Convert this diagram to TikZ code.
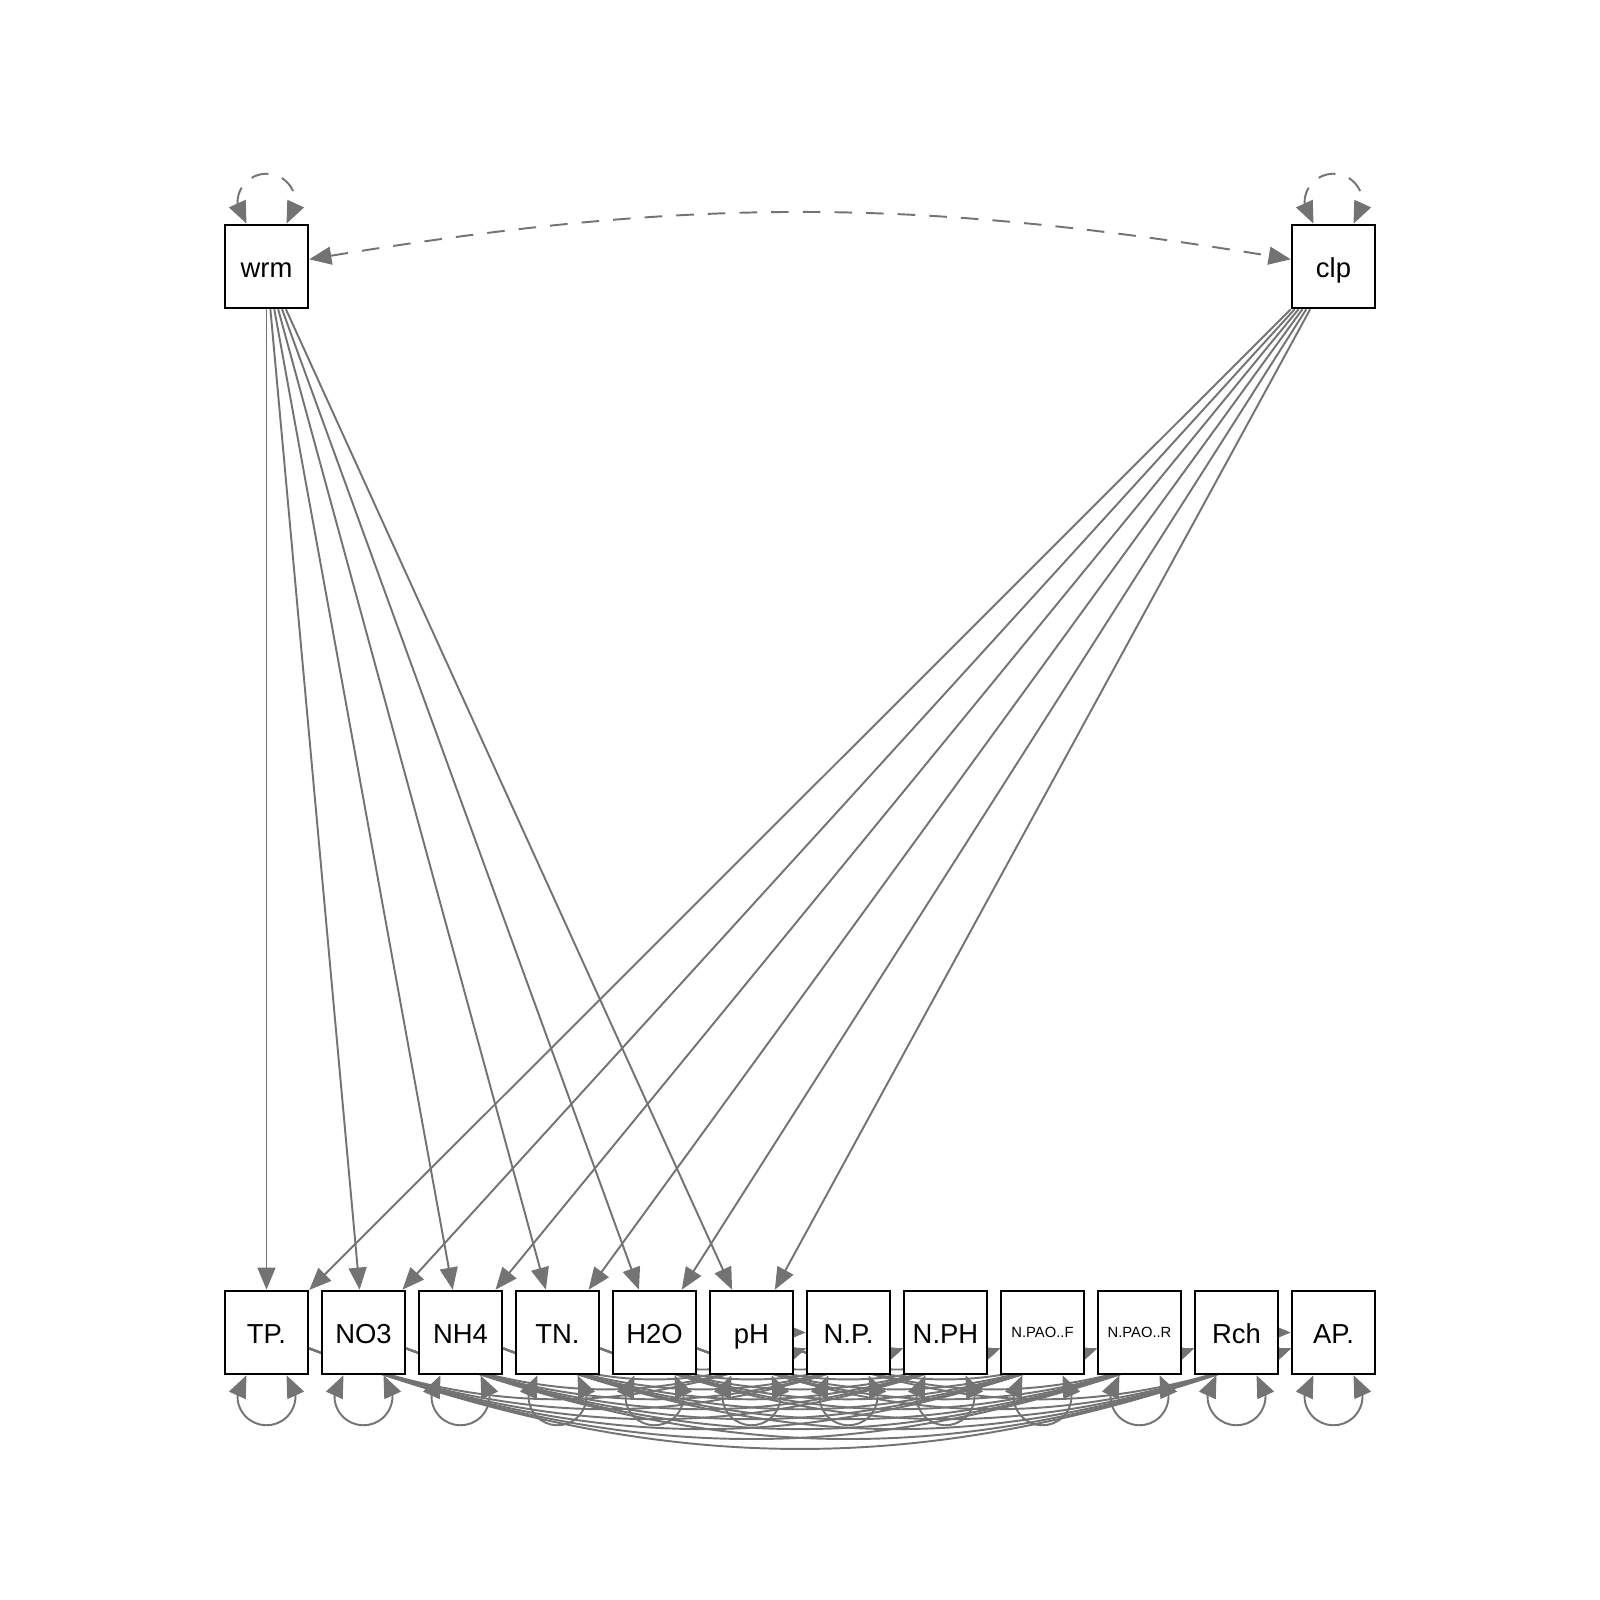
\documentclass[tikz,border=0pt]{standalone}
\usepackage{fontspec}
\setmainfont{Liberation Sans}
\usetikzlibrary{arrows.meta,bending}
\definecolor{edgegray}{RGB}{115,115,115}
\pgfdeclarelayer{edges}
\pgfsetlayers{edges,main}
\tikzset{
  obs/.style={draw, line width=0.7pt, fill=white, minimum size=0.83cm, inner sep=0pt,
    text height=6.3pt, text depth=0pt, font=\fontsize{7.8}{9}\selectfont},
  smalllabel/.style={text height=3pt, font=\fontsize{4.2}{5}\selectfont},
  reg/.style={edgegray, line width=0.55pt, ->},
  resid/.style={edgegray, line width=0.55pt, <->},
  fixed/.style={resid, dash pattern=on 5pt off 4pt},
}
\begin{document}
\begin{tikzpicture}[x=0.01cm, y=0.01cm, >={Triangle[length=6.3pt,width=5.1pt]}]
    \useasboundingbox (0,0) rectangle (1600,1600);
    % exogenous
    \node[obs] (wrm) at (266.5,1333.5) {wrm};
    \node[obs] (clp) at (1333.5,1333.5) {clp};
    % soil and microbial variables
    \node[obs] (tp) at (266.5,267.5) {TP.};
    \node[obs] (no3) at (363.5,267.5) {NO3};
    \node[obs] (nh4) at (460.5,267.5) {NH4};
    \node[obs] (tn) at (557.5,267.5) {TN.};
    \node[obs] (h2o) at (654.5,267.5) {H2O};
    \node[obs] (ph) at (751.5,267.5) {pH};
    \node[obs] (np) at (848.5,267.5) {N.P.};
    \node[obs] (nph) at (945.5,267.5) {N.PH};
    \node[obs, smalllabel] (npaof) at (1042.5,267.5) {N.PAO..F};
    \node[obs, smalllabel] (npaor) at (1139.5,267.5) {N.PAO..R};
    \node[obs] (rch) at (1236.5,267.5) {Rch};
    \node[obs] (ap) at (1333.5,267.5) {AP.};
    \begin{pgfonlayer}{edges}
    % variances
    \foreach \v in {wrm,clp}
      \draw[fixed] ([xshift=-0.2cm]\v.north) arc[start angle=226.4, end angle=-46.4, radius=0.29cm];
    \draw[fixed] (wrm) to[bend left=9.5] (clp);
    \foreach \v in {tp,no3,nh4,tn,h2o,ph,np,nph,npaof,npaor,rch,ap}
      \draw[resid] ([xshift=-0.2cm]\v.south) arc[start angle=133.6, end angle=406.4, radius=0.29cm];
    % regressions
    \foreach \t in {tp,no3,nh4,tn,h2o,ph} {
      \draw[reg] (wrm) -- (\t);
      \draw[reg] (clp) -- (\t);
    }
    \foreach \s in {tp,no3,nh4,tn,h2o}
      \foreach \t in {np,nph,npaof,npaor,rch,ap}
        \draw[reg] (\s) to[bend right=20.5] (\t);
    \foreach \t in {nph,npaof,npaor,rch,ap}
      \draw[reg] (ph) to[bend right=20.5] (\t);
    \draw[reg] (ph) -- (np);
    \draw[reg] (rch) -- (ap);
    \end{pgfonlayer}
\end{tikzpicture}
\end{document}
